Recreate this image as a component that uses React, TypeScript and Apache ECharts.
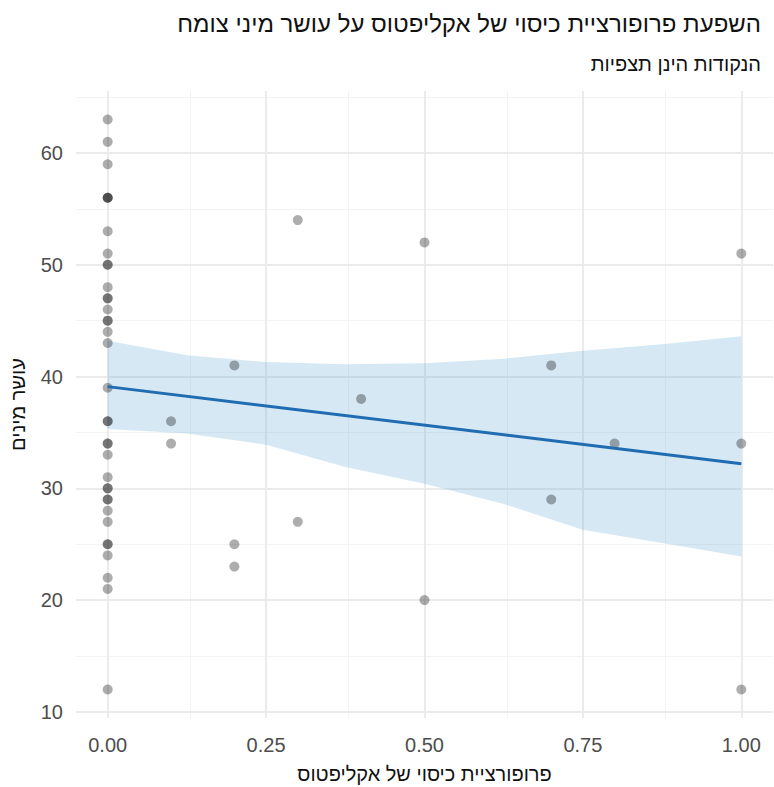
import React, { useEffect, useRef } from "react";
import * as echarts from "echarts";

const titleText = "השפעת פרופורציית כיסוי של אקליפטוס על עושר מיני צומח";
const subtitleText = "הנקודות הינן תצפיות";
const xTitle = "פרופורציית כיסוי של אקליפטוס";
const yTitle = "עושר מינים";

const xTicks = [0, 0.25, 0.5, 0.75, 1];
const xMinor = [0.125, 0.375, 0.625, 0.875];
const yTicks = [10, 20, 30, 40, 50, 60];
const yMinor = [15, 25, 35, 45, 55, 65];

// observations: [proportion, richness]
const obsX = [
  0, 0, 0, 0, 0, 0, 0, 0, 0, 0, 0, 0, 0, 0, 0, 0, 0, 0, 0, 0,
  0, 0, 0, 0, 0, 0, 0, 0, 0, 0, 0, 0, 0, 0, 0, 0, 0,
  0.1, 0.1, 0.2, 0.2, 0.2, 0.3, 0.3, 0.4, 0.5, 0.5, 0.7, 0.7, 0.8, 1, 1, 1,
];
const obsY = [
  63, 61, 59, 56, 56, 56, 53, 51, 50, 50, 48, 47, 47, 46, 45, 45, 44, 43, 39, 36,
  36, 34, 34, 33, 31, 30, 30, 29, 29, 28, 27, 25, 25, 24, 22, 21, 12,
  36, 34, 41, 25, 23, 54, 27, 38, 52, 20, 41, 29, 34, 51, 34, 12,
];

// fitted line and confidence band
const fitX = [0, 1];
const fitY = [39.1, 32.2];
const bandX = [0, 0.125, 0.25, 0.375, 0.5, 0.625, 0.75, 0.875, 1];
const bandUpper = [43.2, 41.9, 41.3, 41.1, 41.2, 41.6, 42.3, 42.9, 43.6];
const bandLower = [35.3, 34.9, 33.9, 31.9, 30.4, 28.6, 26.3, 25.1, 23.9];

const FONT = "'Liberation Sans', Arial, 'DejaVu Sans', sans-serif";

export default function App() {
  const ref = useRef<HTMLDivElement>(null);
  useEffect(() => {
    document.body.style.margin = "0";
    if (!ref.current) return;
    const chart = echarts.init(ref.current, null, { renderer: "svg" });
    const gridMajor = { color: "#ebebeb", width: 2, type: "solid" as const };
    const gridMinor = { color: "#f3f3f3", width: 1, type: "solid" as const };
    const markLines = [
      ...xMinor.map((v) => ({ xAxis: v, lineStyle: gridMinor })),
      ...yMinor.map((v) => ({ yAxis: v, lineStyle: gridMinor })),
      ...xTicks.map((v) => ({ xAxis: v, lineStyle: gridMajor })),
      ...yTicks.map((v) => ({ yAxis: v, lineStyle: gridMajor })),
    ];
    chart.setOption({
      animation: false,
      backgroundColor: "#ffffff",
      title: [
        {
          text: titleText,
          right: 8,
          top: 6,
          textStyle: { fontFamily: FONT, fontSize: 24, fontWeight: "normal", color: "#111" },
        },
        {
          text: subtitleText,
          right: 8,
          top: 49,
          textStyle: { fontFamily: FONT, fontSize: 20, fontWeight: "normal", color: "#111" },
        },
      ],
      grid: {
        left: 76,
        right: 1,
        top: 91,
        bottom: 69,
        containLabel: false,
        outerBoundsMode: "none",
      },
      xAxis: {
        type: "value",
        min: -0.05,
        max: 1.05,
        axisLine: { show: false },
        axisTick: { show: false },
        splitLine: { show: false },
        axisLabel: {
          customValues: xTicks,
          formatter: (v: number) => v.toFixed(2),
          fontFamily: FONT,
          fontSize: 20,
          color: "#4d4d4d",
          margin: 17,
        },
        name: xTitle,
        nameLocation: "middle",
        nameGap: 46,
        nameTextStyle: { fontFamily: FONT, fontSize: 20, color: "#111" },
      },
      yAxis: {
        type: "value",
        min: 9.45,
        max: 65.55,
        axisLine: { show: false },
        axisTick: { show: false },
        splitLine: { show: false },
        axisLabel: {
          customValues: yTicks,
          fontFamily: FONT,
          fontSize: 20,
          color: "#4d4d4d",
          margin: 13,
        },
        name: yTitle,
        nameLocation: "middle",
        nameGap: 48,
        nameRotate: 90,
        nameTextStyle: { fontFamily: FONT, fontSize: 20, color: "#111" },
      },
      series: [
        {
          type: "line",
          data: [],
          silent: true,
          markLine: {
            silent: true,
            symbol: ["none", "none"],
            label: { show: false },
            data: markLines,
            z: 0,
          },
          z: 0,
        },
        {
          type: "custom",
          silent: true,
          z: 1,
          data: [0],
          renderItem: (_params: any, api: any) => {
            const pts: number[][] = [];
            for (let i = 0; i < bandX.length; i++) pts.push(api.coord([bandX[i], bandUpper[i]]));
            for (let i = bandX.length - 1; i >= 0; i--) pts.push(api.coord([bandX[i], bandLower[i]]));
            return {
              type: "polygon",
              shape: { points: pts },
              style: { fill: "rgba(107,174,214,0.28)", stroke: "none" },
            };
          },
        },
        {
          type: "scatter",
          z: 2,
          symbolSize: 10,
          itemStyle: { color: "rgba(0,0,0,0.4)" },
          data: obsX.map((x, i) => [x, obsY[i]]),
        },
        {
          type: "line",
          z: 3,
          symbol: "none",
          lineStyle: { color: "#1f6cb0", width: 3 },
          data: fitX.map((x, i) => [x, fitY[i]]),
        },
      ],
    });
    return () => chart.dispose();
  }, []);
  return <div ref={ref} style={{ width: 774, height: 787 }} />;
}
